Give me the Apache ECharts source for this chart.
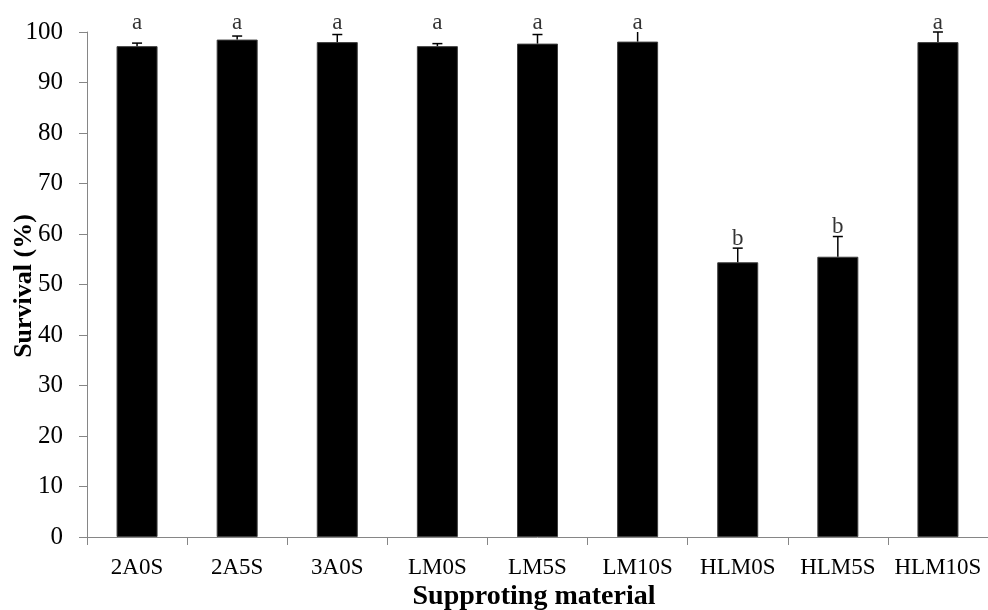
<!DOCTYPE html>
<html>
<head>
<meta charset="utf-8">
<script src="https://cdn.jsdelivr.net/npm/echarts@6/dist/echarts.min.js"></script>
<style>
  html, body { margin: 0; padding: 0; background: #fff; }
  #chart { width: 988px; height: 610px; }
</style>
</head>
<body>
<div id="chart"></div>
<script>
// Survival per supporting material: mean, standard error and significance letter
const categories = ['2A0S', '2A5S', '3A0S', 'LM0S', 'LM5S', 'LM10S', 'HLM0S', 'HLM5S', 'HLM10S'];
const survival = [97.2, 98.5, 98.0, 97.2, 97.7, 98.1, 54.4, 55.5, 98.0];
const errors = [0.6, 0.7, 1.5, 0.5, 1.8, 2.4, 2.8, 4.0, 2.0];
const letters = ['a', 'a', 'a', 'a', 'a', 'a', 'b', 'b', 'a'];
const yTicks = [0, 10, 20, 30, 40, 50, 60, 70, 80, 90, 100];

const yMin = yTicks[0];
const yMax = yTicks[yTicks.length - 1];
const FONT = '"Liberation Serif", "Times New Roman", serif';
const AXIS = '#868686';

// letters sit on the error bar top; near the axis top they line up on the axis maximum
const letterAnchor = survival.map((v, i) => {
  const top = v + errors[i];
  return top > yMax - 3 ? yMax : top;
});

const chart = echarts.init(document.getElementById('chart'), null, { renderer: 'canvas' });

chart.setOption({
  animation: false,
  backgroundColor: '#ffffff',
  grid: { left: 87, top: 32, width: 910, bottom: 73, containLabel: false },
  xAxis: {
    type: 'category',
    data: categories,
    boundaryGap: true,
    axisLine: { lineStyle: { color: AXIS, width: 1 } },
    axisTick: { show: true, length: 8, lineStyle: { color: AXIS } },
    axisLabel: { color: '#000', fontFamily: FONT, fontSize: 23, margin: 19, interval: 0 },
    splitLine: { show: false }
  },
  yAxis: {
    type: 'value',
    min: yMin,
    max: yMax,
    interval: 10,
    axisLine: { show: true, lineStyle: { color: AXIS, width: 1 } },
    axisTick: { show: true, length: 8, lineStyle: { color: AXIS } },
    axisLabel: { color: '#000', fontFamily: FONT, fontSize: 25, margin: 24,
      formatter: v => yTicks.includes(v) ? String(v) : '' },
    splitLine: { show: false }
  },
  graphic: [
    {
      type: 'text',
      x: 24, y: 286,
      rotation: Math.PI / 2,
      style: { text: 'Survival (%)', font: 'bold 26px ' + FONT, fill: '#000',
        align: 'center', verticalAlign: 'middle' }
    },
    {
      type: 'text',
      x: 534, y: 597,
      style: { text: 'Supproting material', font: 'bold 28px ' + FONT, fill: '#000',
        align: 'center', verticalAlign: 'middle' }
    }
  ],
  series: [
    {
      type: 'bar',
      data: survival,
      barWidth: 41,
      itemStyle: { color: '#000000', borderColor: '#3f3f3f', borderWidth: 1 },
      z: 2
    },
    {
      // upward error bars with caps
      type: 'custom',
      data: survival.map((v, i) => [i, v, v + errors[i]]),
      renderItem: (params, api) => {
        const x = api.coord([api.value(0), 0])[0];
        const base = api.coord([api.value(0), api.value(1)])[1];
        const rawTop = api.value(2);
        const top = api.coord([api.value(0), Math.min(rawTop, yMax)])[1];
        const children = [{
          type: 'line',
          shape: { x1: x, y1: base, x2: x, y2: top },
          style: { stroke: '#000', lineWidth: 1.5 }
        }];
        if (rawTop <= yMax + 0.05) {
          children.push({
            type: 'line',
            shape: { x1: x - 5, y1: top, x2: x + 5, y2: top },
            style: { stroke: '#000', lineWidth: 1.5 }
          });
        }
        return { type: 'group', children };
      },
      z: 3
    },
    {
      // significance letters
      type: 'scatter',
      data: letterAnchor.map((v, i) => [i, v]),
      symbolSize: 0,
      clip: false,
      label: {
        show: true,
        position: 'top',
        distance: -2,
        formatter: p => letters[p.dataIndex],
        color: '#000',
        fontFamily: FONT,
        fontSize: 23
      },
      labelLayout: { hideOverlap: false },
      z: 4
    }
  ]
});
</script>
</body>
</html>
